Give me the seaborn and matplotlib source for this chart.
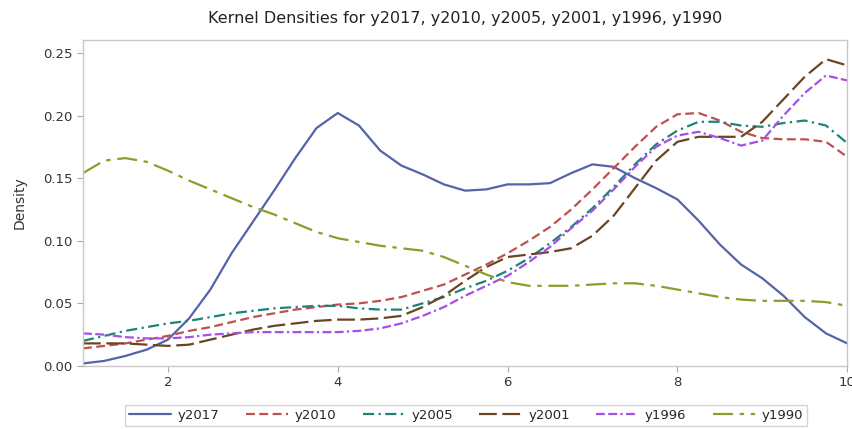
import numpy as np
import pandas as pd
import matplotlib
matplotlib.use("Agg")
import matplotlib.pyplot as plt
import seaborn as sns

# x grid (step 0.25)
x = [1.0, 1.25, 1.5, 1.75, 2.0, 2.25, 2.5, 2.75, 3.0, 3.25, 3.5, 3.75,
     4.0, 4.25, 4.5, 4.75, 5.0, 5.25, 5.5, 5.75, 6.0, 6.25, 6.5, 6.75,
     7.0, 7.25, 7.5, 7.75, 8.0, 8.25, 8.5, 8.75, 9.0, 9.25, 9.5, 9.75, 10.0]

y2017 = [0.002, 0.004, 0.008, 0.013, 0.021, 0.038, 0.061, 0.090, 0.115, 0.140, 0.166, 0.190,
         0.202, 0.192, 0.172, 0.160, 0.153, 0.145, 0.140, 0.141, 0.145, 0.145, 0.146, 0.154,
         0.161, 0.159, 0.150, 0.142, 0.133, 0.116, 0.097, 0.081, 0.070, 0.056, 0.039, 0.026, 0.018]
y2010 = [0.014, 0.016, 0.018, 0.021, 0.024, 0.028, 0.031, 0.035, 0.039, 0.042, 0.045, 0.047,
         0.049, 0.050, 0.052, 0.055, 0.060, 0.065, 0.073, 0.081, 0.090, 0.100, 0.111, 0.125,
         0.141, 0.158, 0.175, 0.191, 0.201, 0.202, 0.196, 0.187, 0.182, 0.181, 0.181, 0.179, 0.167]
y2005 = [0.020, 0.024, 0.028, 0.031, 0.034, 0.036, 0.039, 0.042, 0.044, 0.046, 0.047, 0.048,
         0.048, 0.046, 0.045, 0.045, 0.050, 0.055, 0.062, 0.068, 0.076, 0.086, 0.098, 0.111,
         0.126, 0.143, 0.161, 0.177, 0.188, 0.195, 0.195, 0.192, 0.191, 0.194, 0.196, 0.192, 0.178]
y2001 = [0.018, 0.018, 0.018, 0.017, 0.016, 0.017, 0.021, 0.025, 0.029, 0.032, 0.034, 0.036,
         0.037, 0.037, 0.038, 0.040, 0.047, 0.056, 0.068, 0.079, 0.087, 0.089, 0.091, 0.094,
         0.104, 0.120, 0.142, 0.164, 0.179, 0.183, 0.183, 0.183, 0.195, 0.213, 0.231, 0.245, 0.240]
y1996 = [0.026, 0.025, 0.023, 0.022, 0.022, 0.023, 0.025, 0.026, 0.027, 0.027, 0.027, 0.027,
         0.027, 0.028, 0.030, 0.034, 0.040, 0.047, 0.056, 0.064, 0.072, 0.083, 0.095, 0.110,
         0.124, 0.141, 0.159, 0.175, 0.184, 0.187, 0.182, 0.176, 0.180, 0.200, 0.218, 0.232, 0.228]
y1990 = [0.154, 0.164, 0.166, 0.163, 0.156, 0.148, 0.141, 0.134, 0.127, 0.121, 0.114, 0.107,
         0.102, 0.099, 0.096, 0.094, 0.092, 0.087, 0.080, 0.073, 0.067, 0.064, 0.064, 0.064,
         0.065, 0.066, 0.066, 0.064, 0.061, 0.058, 0.055, 0.053, 0.052, 0.052, 0.052, 0.051, 0.048]

names = ["y2017", "y2010", "y2005", "y2001", "y1996", "y1990"]
series = [y2017, y2010, y2005, y2001, y1996, y1990]

df = pd.DataFrame({
    "x": np.tile(x, len(names)),
    "Density": np.concatenate(series),
    "var": np.repeat(names, len(x)),
})

colors = {"y2017": "#5563a8", "y2010": "#c0504d", "y2005": "#1f8277",
          "y2001": "#6a4524", "y1996": "#a64ee8", "y1990": "#8b9e2a"}
dashes = {"y2017": "",
          "y2010": (4, 2),
          "y2005": (5, 2, 1, 2),
          "y2001": (8, 2.5),
          "y1996": (4, 1.5, 4, 1.5, 1, 1.5),
          "y1990": (9, 3, 2, 3)}

sns.set_style("white")
plt.rcParams["font.family"] = ["DejaVu Sans"]

fig = plt.figure(figsize=(8.52, 4.29), dpi=100)
ax = fig.add_axes([0.0974, 0.147, 0.897, 0.760])

sns.lineplot(data=df, x="x", y="Density", hue="var", style="var",
             palette=colors, dashes=dashes, linewidth=1.6, ax=ax)

ax.set_xlim(1, 10)
ax.set_ylim(0, 0.2604)
ax.set_xticks([2, 4, 6, 8, 10])
ax.set_yticks([0.0, 0.05, 0.10, 0.15, 0.20, 0.25])
ax.set_yticklabels(["0.00", "0.05", "0.10", "0.15", "0.20", "0.25"])
ax.set_xlabel("")
ax.set_ylabel("Density", fontsize=10, color="#333333", labelpad=12)
for s in ax.spines.values():
    s.set_color("#c8c8c8")
    s.set_linewidth(1.0)
ax.tick_params(axis="both", which="both", length=4, width=0.8, color="#aaaaaa",
               labelsize=9.5, labelcolor="#333333", direction="out")
ax.tick_params(bottom=True, left=True)

ax.set_title("Kernel Densities for y2017, y2010, y2005, y2001, y1996, y1990",
             fontsize=11.5, color="#222222", pad=12)

handles, labels = ax.get_legend_handles_labels()
leg = fig.legend(handles, labels, loc="center", ncol=6,
                 bbox_to_anchor=(0.547, 0.032), frameon=True, fontsize=9.5,
                 handlelength=3.2, columnspacing=2.0, handletextpad=0.5,
                 borderpad=0.3, fancybox=False, edgecolor="#c8c8c8")
leg.get_frame().set_linewidth(1.0)
ax.get_legend().remove()

fig.savefig("out.png", dpi=100)
